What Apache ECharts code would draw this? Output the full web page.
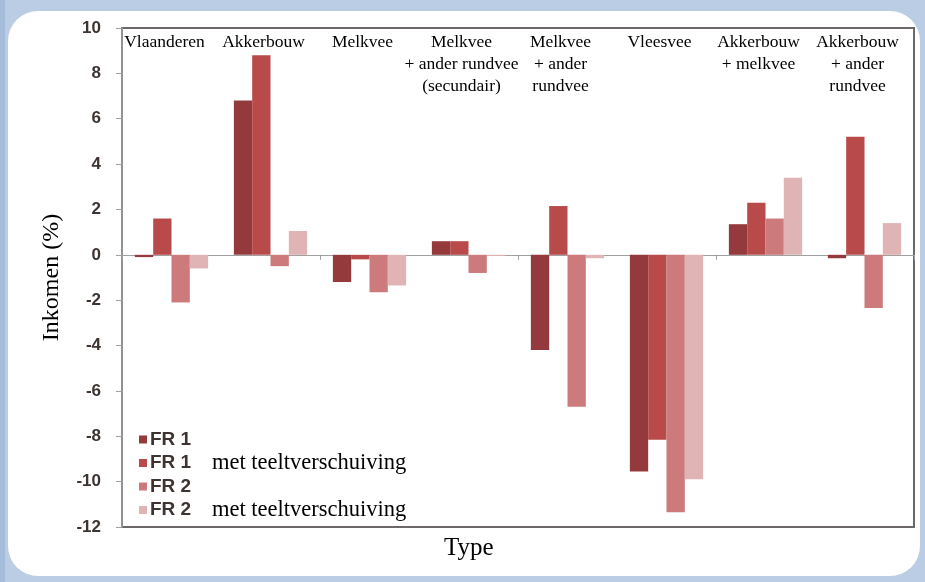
<!DOCTYPE html>
<html>
<head>
<meta charset="utf-8">
<script src="https://cdn.jsdelivr.net/npm/echarts@6/dist/echarts.min.js"></script>
<style>
html,body{margin:0;padding:0;width:925px;height:582px;overflow:hidden;background:#bacde5;}
#strip{position:absolute;left:0;top:0;width:5px;height:582px;background:#a6bcdb;}
#panel{position:absolute;left:8px;top:11px;width:912px;height:565px;background:#fff;border-radius:30px;}
#chart{position:absolute;left:0;top:0;width:925px;height:582px;}
</style>
</head>
<body>
<div id="strip"></div>
<div id="panel"></div>
<div id="chart"></div>
<script>
const categories = [
  'Vlaanderen',
  'Akkerbouw',
  'Melkvee',
  'Melkvee\n+ ander rundvee\n(secundair)',
  'Melkvee\n+ ander\nrundvee',
  'Vleesvee',
  'Akkerbouw\n+ melkvee',
  'Akkerbouw\n+ ander\nrundvee'
];
const seriesNames = ['FR 1', 'FR 1 met teeltverschuiving', 'FR 2', 'FR 2 met teeltverschuiving'];
const fr1      = [-0.1, 6.8, -1.2, 0.6, -4.2, -9.55, 1.35, -0.15];
const fr1Teelt = [1.6, 8.8, -0.2, 0.6, 2.15, -8.15, 2.3, 5.2];
const fr2      = [-2.1, -0.5, -1.65, -0.8, -6.7, -11.35, 1.6, -2.35];
const fr2Teelt = [-0.6, 1.05, -1.35, -0.05, -0.15, -9.9, 3.4, 1.4];
const yTicks = {min: -12, max: 10, interval: 2};
const colors = ['#953a3c', '#b84a4a', '#cc7a7b', '#e0b4b5'];

const chart = echarts.init(document.getElementById('chart'), null, {renderer: 'canvas'});
const values = [fr1, fr1Teelt, fr2, fr2Teelt];
chart.setOption({
  animation: false,
  color: colors,
  title: {
    text: 'Type', left: 439, top: 531,
    textStyle: {fontFamily: 'Liberation Serif', fontSize: 25, fontWeight: 'normal', color: '#000'}
  },
  grid: {left: 122, right: 11, top: 28, bottom: 55, show: true, borderColor: '#6d6868', borderWidth: 2, backgroundColor: 'transparent'},
  legend: {
    orient: 'vertical', left: 134, top: 425, itemWidth: 8, itemHeight: 8, itemGap: 2.5, icon: 'rect',
    data: seriesNames,
    formatter: function (name) {
      const p = name.split(' met ');
      return p.length > 1 ? '{a|' + p[0] + '}{b|met ' + p[1] + '}' : '{a|' + p[0] + '}';
    },
    textStyle: {
      padding: [0, 0, 0, -2],
      rich: {
        a: {fontFamily: 'Liberation Sans', fontWeight: 'bold', fontSize: 19, color: '#3d3431', width: 62, lineHeight: 18},
        b: {fontFamily: 'Liberation Serif', fontSize: 22.5, color: '#000', lineHeight: 18}
      }
    }
  },
  xAxis: [
    {
      type: 'category', data: categories, position: 'bottom',
      axisLine: {onZero: true, lineStyle: {color: '#a0a0a0', width: 1}},
      axisTick: {show: true, length: 5, lineStyle: {color: '#a0a0a0'}},
      axisLabel: {show: false}
    },
    {
      type: 'category', data: categories, position: 'top',
      axisLine: {show: false}, axisTick: {show: false},
      axisLabel: {
        inside: true, margin: 3, interval: 0,
        fontFamily: 'Liberation Serif', fontSize: 17.5, color: '#000', lineHeight: 22,
        padding: [0, 14, 0, 0]
      }
    }
  ],
  yAxis: {
    type: 'value', min: yTicks.min, max: yTicks.max, interval: yTicks.interval,
    name: 'Inkomen (%)', nameLocation: 'middle', nameGap: 58,
    nameTextStyle: {fontFamily: 'Liberation Serif', fontSize: 24, color: '#000'},
    axisLine: {show: true, lineStyle: {color: '#a0a0a0', width: 1.5}},
    axisTick: {show: true, length: 6, lineStyle: {color: '#a0a0a0'}},
    axisLabel: {margin: 21, fontFamily: 'Liberation Sans', fontWeight: 'bold', fontSize: 17, color: '#3d3431'},
    splitLine: {show: false}
  },
  series: seriesNames.map((n, i) => ({
    name: n, type: 'bar', xAxisIndex: 0, data: values[i],
    barGap: '0%', barCategoryGap: '26%',
    itemStyle: {color: colors[i]}
  }))
});
</script>
</body>
</html>
